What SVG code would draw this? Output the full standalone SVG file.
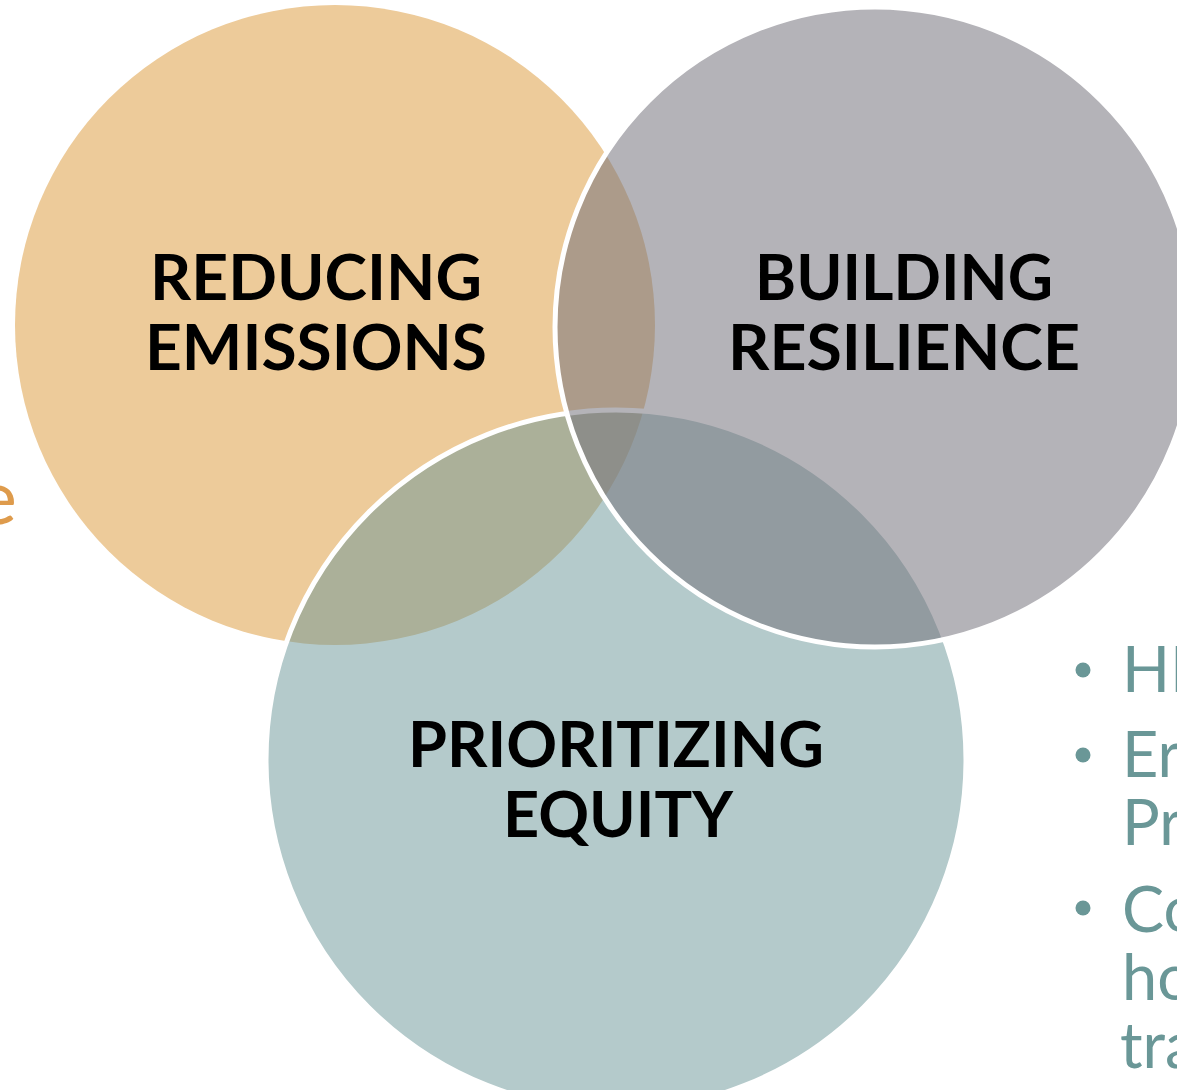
<svg xmlns="http://www.w3.org/2000/svg" width="1177" height="1090" viewBox="0 0 1177 1090">
<style>
.lbl{font-family:Lato,"Noto Sans","Liberation Sans",sans-serif;font-weight:700;font-size:64px;fill:#000;text-anchor:middle}
.bul{font-family:Lato,"Noto Sans","Liberation Sans",sans-serif;font-weight:400;font-size:63px;fill:#6A9797}
.ring{stroke:#fff;stroke-width:5}
</style>
<rect width="1177" height="1090" fill="#fff"/>
<g id="side-text-left">
<text x="17" y="524" font-family="Lato,'Noto Sans','Liberation Sans',sans-serif" font-weight="400" font-size="76" fill="#DE9B4C" text-anchor="end">e</text>
</g>
<g id="node-reducing-emissions">
<circle cx="335" cy="325" r="320" fill="#EDCB9A"/>
</g>
<g id="node-prioritizing-equity">
<circle class="ring" cx="616" cy="760" r="350" fill="rgba(105,149,151,0.5)"/>
</g>
<g id="node-building-resilience">
<circle class="ring" cx="875" cy="327" r="320" fill="rgba(119,117,126,0.55)"/>
</g>
<g id="labels">
<text class="lbl" x="316" y="300" textLength="332" lengthAdjust="spacingAndGlyphs">REDUCING</text>
<text class="lbl" x="316" y="370" textLength="342" lengthAdjust="spacingAndGlyphs">EMISSIONS</text>
<text class="lbl" x="904" y="300" textLength="298" lengthAdjust="spacingAndGlyphs">BUILDING</text>
<text class="lbl" x="904" y="370" textLength="352" lengthAdjust="spacingAndGlyphs">RESILIENCE</text>
<text class="lbl" x="616" y="767" textLength="416" lengthAdjust="spacingAndGlyphs">PRIORITIZING</text>
<text class="lbl" x="618" y="837" textLength="230" lengthAdjust="spacingAndGlyphs">EQUITY</text>
</g>
<g id="connectors"></g>
<g id="bullet-list">
<circle cx="1083" cy="670" r="7.5" fill="#6A9797"/>
<circle cx="1083" cy="755" r="7.5" fill="#6A9797"/>
<circle cx="1083" cy="908" r="7.5" fill="#6A9797"/>
<text class="bul" x="1122" y="692">HE</text>
<text class="bul" x="1122" y="777">Er</text>
<text class="bul" x="1122" y="845">Pr</text>
<text class="bul" x="1122" y="932">Co</text>
<text class="bul" x="1122" y="1000">ho</text>
<text class="bul" x="1120" y="1068">tra</text>
</g>
</svg>
